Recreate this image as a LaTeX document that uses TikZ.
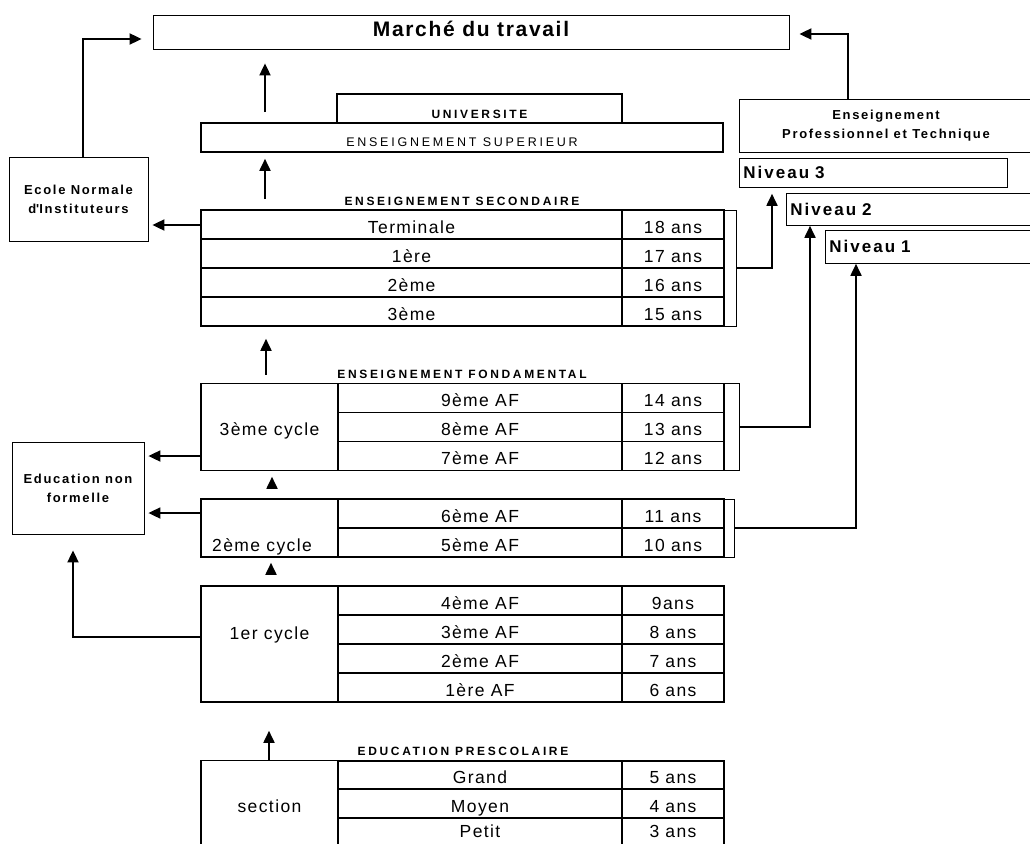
\documentclass[tikz,border=0pt]{standalone}
\usepackage{fontspec}
\setmainfont{Liberation Sans}
\usetikzlibrary{arrows.meta}
\newcommand\cellfont{\fontsize{17.5}{20}\selectfont\addfontfeatures{LetterSpace=8}}
\newcommand\ttlfont{\fontsize{12}{14}\selectfont\bfseries\addfontfeatures{LetterSpace=22}}
\newcommand\boxfont{\fontsize{13}{19}\selectfont\bfseries\addfontfeatures{LetterSpace=13}}
\newcommand\nivfont{\fontsize{17}{20}\selectfont\bfseries\addfontfeatures{LetterSpace=12}}
\newcommand\supfont{\fontsize{12.5}{15}\selectfont\addfontfeatures{LetterSpace=22}}
\newcommand\mtfont{\fontsize{21}{24}\selectfont\bfseries\addfontfeatures{LetterSpace=8}}
\begin{document}
\begin{tikzpicture}[x=1pt, y=-1pt,
  cell/.style={draw, line width=1.6pt, inner sep=0pt, minimum height=29pt, text height=17pt, text depth=0pt, font=\cellfont},
  box/.style={draw, line width=0.8pt, inner sep=2pt, align=center, font=\boxfont},
  niv/.style={draw, line width=0.8pt, anchor=north west, text width=260pt, inner xsep=4pt, inner ysep=0pt, align=left, font=\nivfont},
  ttl/.style={anchor=base, inner sep=0pt, font=\ttlfont},
  brk/.style={draw, line width=0.8pt, inner sep=0pt},
  arr/.style={line width=1.8pt, -{Triangle[length=12pt,width=11pt]}}]
\useasboundingbox (0,0) rectangle (1030,843);
\clip (0,0) rectangle (1030,843);

% brackets right of the tables
\node[brk, minimum width=13pt, minimum height=116pt] (bs) at (729.5,268) {};
\node[brk, minimum width=15pt, minimum height=87pt] (b3) at (731.5,427) {};
\node[brk, minimum width=10pt, minimum height=58pt] (b2) at (729,528) {};

% top boxes
\node[draw, line width=0.8pt, minimum width=636pt, minimum height=34pt, inner sep=0pt, text height=10pt, text depth=0pt, font=\mtfont] (mt) at (471,32) {Marché du travail};
\node[draw, line width=1.6pt, minimum width=285pt, minimum height=29pt, inner sep=0pt, text height=19.6pt, text depth=0pt, font=\ttlfont] (univ) at (479.5,108.5) {UNIVERSITE};
\node[draw, line width=1.6pt, minimum width=522pt, minimum height=29pt, inner sep=0pt, text height=18pt, text depth=0pt, font=\supfont] (sup) at (462,137.5) {ENSEIGNEMENT SUPERIEUR};

% side boxes
\node[box, minimum width=139pt, minimum height=84pt] (eni) at (78.5,199) {Ecole Normale\\d\textquotesingle Instituteurs};
\node[box, minimum width=132pt, minimum height=92pt] (enf) at (78,488) {Education non\\formelle};
\node[box, minimum width=294pt, minimum height=53pt] (ept) at (886,125.5) {Enseignement\\Professionnel et Technique};
\node[niv, minimum height=29pt] (n3) at (739,158) {Niveau 3};
\node[niv, minimum height=32pt] (n2) at (786,193) {Niveau 2};
\node[niv, minimum height=33pt] (n1) at (825,230) {Niveau 1};

% titles
\node[ttl] (tsec) at (462,205) {ENSEIGNEMENT SECONDAIRE};
\node[ttl] (tfon) at (462,378) {ENSEIGNEMENT FONDAMENTAL};
\node[ttl] (tpre) at (463,755) {EDUCATION PRESCOLAIRE};

% secondaire
\node[cell, minimum width=421pt] (sTer) at (411.5,224.5) {Terminale};
\node[cell, minimum width=102pt] (s18) at (673,224.5) {18 ans};
\node[cell, minimum width=421pt] (s1re) at (411.5,253.5) {1ère};
\node[cell, minimum width=102pt] (s17) at (673,253.5) {17 ans};
\node[cell, minimum width=421pt] (s2me) at (411.5,282.5) {2ème};
\node[cell, minimum width=102pt] (s16) at (673,282.5) {16 ans};
\node[cell, minimum width=421pt] (s3me) at (411.5,311.5) {3ème};
\node[cell, minimum width=102pt] (s15) at (673,311.5) {15 ans};

% fondamental, 3eme cycle
\node[cell, minimum width=137pt, minimum height=87pt] (c3) at (269.5,427) {3ème cycle};
\node[cell, minimum width=284pt] (f9) at (480,398) {9ème AF};
\node[cell, minimum width=102pt] (a14) at (673,398) {14 ans};
\node[cell, minimum width=284pt] (f8) at (480,427) {8ème AF};
\node[cell, minimum width=102pt] (a13) at (673,427) {13 ans};
\node[cell, minimum width=284pt] (f7) at (480,456) {7ème AF};
\node[cell, minimum width=102pt] (a12) at (673,456) {12 ans};

% 2eme cycle
\node[cell, minimum width=137pt, minimum height=58pt] (c2) at (269.5,528) {};
\node[cell, draw=none] (c2t) at (262,542.5) {2ème cycle};
\node[cell, minimum width=284pt] (f6) at (480,513.5) {6ème AF};
\node[cell, minimum width=102pt] (a11) at (673,513.5) {11 ans};
\node[cell, minimum width=284pt] (f5) at (480,542.5) {5ème AF};
\node[cell, minimum width=102pt] (a10) at (673,542.5) {10 ans};

% 1er cycle
\node[cell, minimum width=137pt, minimum height=116pt] (c1) at (269.5,644) {};
\node[cell, draw=none] (c1t) at (269.5,630.5) {1er cycle};
\node[cell, minimum width=284pt] (f4) at (480,600.5) {4ème AF};
\node[cell, minimum width=102pt] (a9) at (673,600.5) {9ans};
\node[cell, minimum width=284pt] (f3) at (480,629.5) {3ème AF};
\node[cell, minimum width=102pt] (a8) at (673,629.5) {8 ans};
\node[cell, minimum width=284pt] (f2) at (480,658.5) {2ème AF};
\node[cell, minimum width=102pt] (a7) at (673,658.5) {7 ans};
\node[cell, minimum width=284pt] (f1) at (480,687.5) {1ère AF};
\node[cell, minimum width=102pt] (a6) at (673,687.5) {6 ans};

% prescolaire
\node[cell, minimum width=137pt, minimum height=86pt] (cp) at (269.5,803.5) {section};
\node[cell, minimum height=28.5pt, minimum width=284pt] (pg) at (480,775) {Grand};
\node[cell, minimum height=28.5pt, minimum width=102pt] (a5) at (673,775) {5 ans};
\node[cell, minimum height=28.5pt, minimum width=284pt] (pm) at (480,803.5) {Moyen};
\node[cell, minimum height=28.5pt, minimum width=102pt] (a4) at (673,803.5) {4 ans};
\node[cell, minimum height=28.5pt, minimum width=284pt, text height=10pt] (pp) at (480,832) {Petit};
\node[cell, minimum height=28.5pt, minimum width=102pt, text height=10pt] (a3) at (673,832) {3 ans};

% arrows
\draw[arr] ([xshift=4.5pt]eni.north) |- ([xshift=-11pt,yshift=-7pt]mt.west);
\draw[arr] ([xshift=-38pt]ept.north) |- ([xshift=10pt,yshift=-2pt]mt.east);
\draw[arr, shorten <=10pt, shorten >=14pt] ([xshift=-197pt]sup.north) -- ([xshift=-206pt]mt.south);
\draw[arr, shorten <=10pt, shorten >=6pt] ([xshift=-146.5pt]sTer.north) -- ([xshift=-197pt]sup.south);
\draw[arr, shorten <=8pt, shorten >=12pt] ([xshift=-3.5pt]c3.north) -- ([xshift=-145.5pt]s3me.south);
\draw[arr, shorten <=9pt, shorten >=5.5pt] ([xshift=2.5pt]c2.north) -- ([xshift=2.5pt]c3.south);
\draw[arr, shorten <=13pt, shorten >=5pt] ([xshift=1.5pt]c1.north) -- ([xshift=1.5pt]c2.south);
\draw[arr, shorten >=28pt] ([xshift=-0.5pt]cp.north) -- ([xshift=-0.5pt]c1.south);
\draw[arr, shorten >=4pt] ([yshift=-0.5pt]sTer.west) -- ([yshift=-0.5pt]sTer.west -| eni.east);
\draw[arr, shorten >=4pt] (c3.west |- f7.center) -- (enf.east |- f7.center);
\draw[arr, shorten >=4pt] ([yshift=0.5pt]c2.west |- f6.center) -- ([yshift=0.5pt]enf.east |- f6.center);
\draw[arr] ([yshift=7pt]c1.west) -| ([xshift=-5pt,yshift=-16pt]enf.south);
\draw[arr] (bs.east) -| ([xshift=33pt,yshift=-6pt]n3.south west);
\draw[arr] (b3.east) -| ([xshift=24pt]n2.south west);
\draw[arr] (b2.east) -| ([xshift=31pt]n1.south west);
\end{tikzpicture}
\end{document}
